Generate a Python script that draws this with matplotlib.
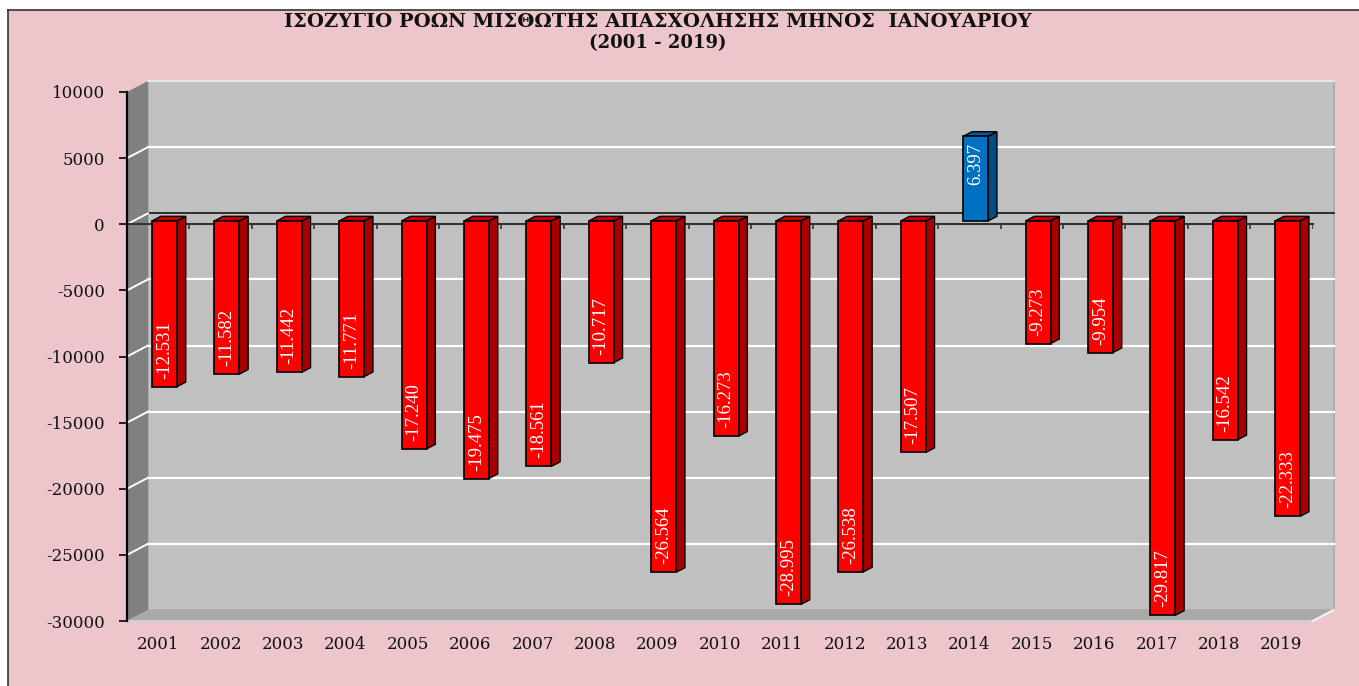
import matplotlib
matplotlib.use("Agg")
import matplotlib.pyplot as plt
from matplotlib.patches import Polygon, Rectangle
from matplotlib.lines import Line2D

# data
years = ["2001", "2002", "2003", "2004", "2005", "2006", "2007", "2008", "2009", "2010",
         "2011", "2012", "2013", "2014", "2015", "2016", "2017", "2018", "2019"]
balance = [-12531, -11582, -11442, -11771, -17240, -19475, -18561, -10717, -26564, -16273,
           -28995, -26538, -17507, 6397, -9273, -9954, -29817, -16542, -22333]
yticks = [10000, 5000, 0, -5000, -10000, -15000, -20000, -25000, -30000]
title = "ΙΣΟΖΥΓΙΟ ΡΟΩΝ ΜΙΣΘΩΤΗΣ ΑΠΑΣΧΟΛΗΣΗΣ ΜΗΝΟΣ  ΙΑΝΟΥΑΡΙΟΥ"
subtitle = "(2001 - 2019)"

W, H = 1359, 686
PINK = "#ecc6ca"
serif = ["Liberation Serif", "DejaVu Serif"]
wide = ["DejaVu Serif"]

fig = plt.figure(figsize=(W / 100, H / 100), dpi=100)
fig.patch.set_facecolor(PINK)

# white margin + frame lines top/left
fig.patches.append(Rectangle((0, 1 - 10 / H), 1, 10 / H, transform=fig.transFigure,
                             facecolor="white", edgecolor="none", zorder=0))
fig.patches.append(Rectangle((0, 0), 8 / W, 1, transform=fig.transFigure,
                             facecolor="white", edgecolor="none", zorder=0))
fig.lines.append(Line2D([8 / W, 1], [1 - 10 / H, 1 - 10 / H], transform=fig.transFigure,
                        color="#333333", lw=1.2))
fig.lines.append(Line2D([8 / W, 8 / W], [0, 1 - 10 / H], transform=fig.transFigure,
                        color="#333333", lw=1.2))

left, right, top, bottom = 127, 1312.6, 92, 621
ax = fig.add_axes([left / W, 1 - bottom / H, (right - left) / W, (bottom - top) / H])
ax.set_facecolor("none")
n = len(years)
ax.set_xlim(-0.5, n - 0.5)
ax.set_ylim(-30000, 10000)

# depth offset in data units (about 21 px right, 11 px up)
px_x = n / (right - left)
px_y = 40000 / (bottom - top)
DX, DY = 21 * px_x, 11 * px_y
x0, x1 = -0.5, n - 0.5
ymin, ymax = -30000, 10000

# back wall
ax.add_patch(Rectangle((x0 + DX, ymin + DY), n, ymax - ymin, facecolor="#c0c0c0",
                       edgecolor="#a8a8a8", lw=1.2, zorder=1, clip_on=False))
ax.plot([x0 + DX, x1 + DX], [ymax + DY, ymax + DY], color="#e6e6e6", lw=1.5, zorder=2, clip_on=False)
# left wall
ax.add_patch(Polygon([(x0, ymin), (x0, ymax), (x0 + DX, ymax + DY), (x0 + DX, ymin + DY)],
                     closed=True, facecolor="#808080", edgecolor="none", zorder=1, clip_on=False))
# floor
ax.add_patch(Polygon([(x0, ymin), (x1, ymin), (x1 + DX, ymin + DY), (x0 + DX, ymin + DY)],
                     closed=True, facecolor="#a9a9a9", edgecolor="none", zorder=1, clip_on=False))
ax.plot([x0, x1], [ymin, ymin], color="#d0d0d0", lw=1.5, zorder=2, clip_on=False)
ax.plot([x1, x1 + DX], [ymin, ymin + DY], color="#f4f4f4", lw=1.5, zorder=2, clip_on=False)

# gridlines
for t in yticks[1:-1]:
    ax.plot([x0 + DX, x1 + DX], [t + DY, t + DY], color="white" if t != 0 else "#222222",
            lw=1.6 if t != 0 else 1.3, zorder=2, clip_on=False)
    ax.plot([x0, x0 + DX], [t, t + DY], color="white", lw=1.4, zorder=2, clip_on=False)

# front zero axis with boundary ticks
ax.plot([x0, x1], [0, 0], color="#333333", lw=1.5, zorder=2, clip_on=False)
ax.vlines([i + 0.5 for i in range(n)], -350, 0, color="#333333", lw=1.2, zorder=2)

# bars (front face at 30% depth, back face at 72%)
f0, f1 = 0.3, 0.72
bw = 0.4
xs = [i + 0.1 for i in range(n)]
cols = ["#0070c0" if v > 0 else "#ff0000" for v in balance]
side = ["#004d85" if v > 0 else "#a80000" for v in balance]
topc = ["#005a9c" if v > 0 else "#c80000" for v in balance]
oy = f0 * DY
ddx, ddy = (f1 - f0) * DX, (f1 - f0) * DY
ax.bar(xs, balance, width=bw, bottom=oy, color=cols, edgecolor="black", lw=1.2, zorder=4)
for x, v, sc, tc in zip(xs, balance, side, topc):
    xl, xr = x - bw / 2, x + bw / 2
    hi = max(v, 0) + oy
    lo = min(v, 0) + oy
    ax.add_patch(Polygon([(xr, lo), (xr, hi), (xr + ddx, hi + ddy), (xr + ddx, lo + ddy)],
                         closed=True, facecolor=sc, edgecolor="black", lw=1.0, zorder=3))
    ax.add_patch(Polygon([(xl, hi), (xr, hi), (xr + ddx, hi + ddy), (xl + ddx, hi + ddy)],
                         closed=True, facecolor=tc, edgecolor="black", lw=1.0, zorder=3))
    lab = f"{v:,}".replace(",", ".")
    if v < 0:
        ax.text(x, v + oy + 8 * px_y, lab, rotation=90, ha="center", va="bottom",
                color="white", fontsize=13.5, family=serif, zorder=5)
    else:
        ax.text(x, v + oy - 7 * px_y, lab, rotation=90, ha="center", va="top",
                color="white", fontsize=13.5, family=serif, zorder=5)

# axes styling
for s in ["top", "right", "bottom"]:
    ax.spines[s].set_visible(False)
ax.spines["left"].set_color("black")
ax.spines["left"].set_linewidth(1.6)
ax.spines["left"].set_zorder(6)
ax.set_yticks(yticks)
ax.set_yticklabels([str(t) for t in yticks], family=wide, fontsize=12, color="#111111")
ax.tick_params(axis="y", direction="out", length=6, width=1.2, pad=10)
ax.set_xticks(range(n))
ax.set_xticklabels(years, family=wide, fontsize=12, color="#111111")
ax.tick_params(axis="x", length=0, pad=11)

fig.text(658 / W, 1 - 22 / H, title, ha="center", va="center", fontsize=14,
         fontweight="bold", family=wide, color="#111111")
fig.text(658 / W, 1 - 43 / H, subtitle, ha="center", va="center", fontsize=13,
         fontweight="bold", family=wide, color="#111111")

fig.savefig("out.png", dpi=100, facecolor=fig.get_facecolor())
